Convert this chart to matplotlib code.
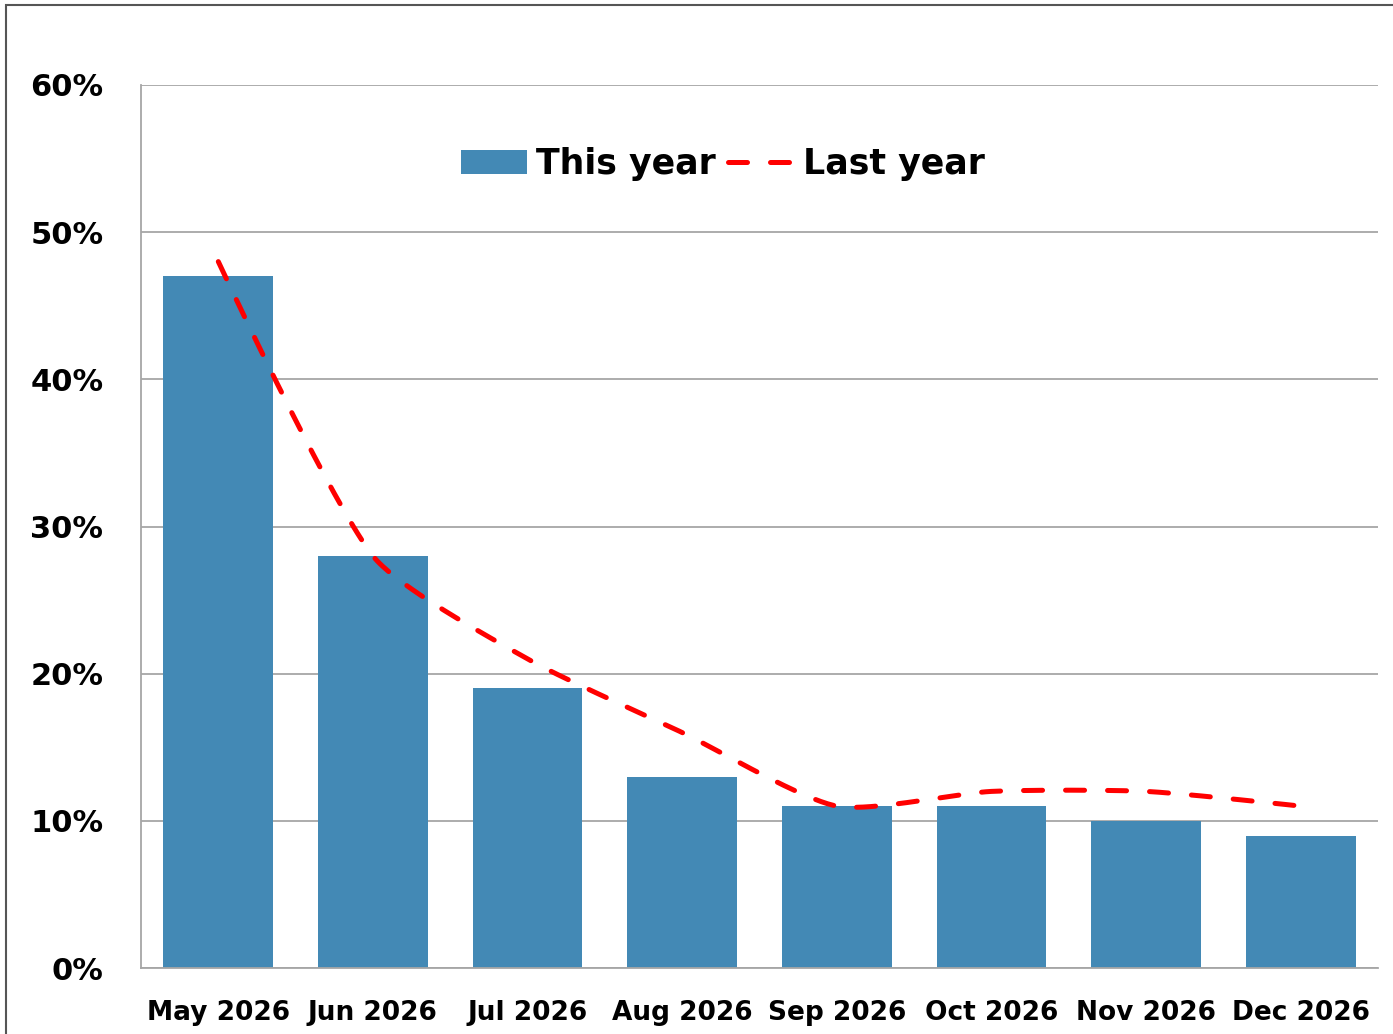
import numpy as np
import matplotlib
matplotlib.use("Agg")
import matplotlib.pyplot as plt
from matplotlib.patches import Rectangle

months = ["May 2026", "Jun 2026", "Jul 2026", "Aug 2026",
          "Sep 2026", "Oct 2026", "Nov 2026", "Dec 2026"]
this_year = [47, 28, 19, 13, 11, 11, 10, 9]
last_year = [48, 28, 21, 16, 11, 12, 12, 11]
y_ticks = [0, 10, 20, 30, 40, 50, 60]

plt.rcParams["font.family"] = ["DejaVu Sans"]
plt.rcParams["font.weight"] = "bold"

fig = plt.figure(figsize=(13.93, 10.34), dpi=100)
ax = fig.add_axes([141 / 1393, 1 - 968 / 1034, (1378 - 141) / 1393, (968 - 85) / 1034])

# border around the whole chart
fig.patches.append(Rectangle((6 / 1393, -0.01), 1.1, 1 - 5 / 1034 + 0.01,
                             transform=fig.transFigure, fill=False,
                             edgecolor="#555555", linewidth=1.5))

x = np.arange(len(months))
bars = ax.bar(x, this_year, width=0.71, color="#4389B5", label="This year", zorder=2)

# smoothed line: bezier with distance-weighted control points (in screen-like units)
def smooth(xs, ys, tension=0.22, n=40):
    kx, ky = 154.6, 14.72  # px per category / px per percent
    P = np.column_stack([np.asarray(xs, float) * kx, np.asarray(ys, float) * ky])
    cin, cout = P.copy(), P.copy()
    for i in range(1, len(P) - 1):
        d0 = np.linalg.norm(P[i] - P[i - 1])
        d1 = np.linalg.norm(P[i + 1] - P[i])
        v = P[i + 1] - P[i - 1]
        cin[i] = P[i] - tension * d0 / (d0 + d1) * v
        cout[i] = P[i] + tension * d1 / (d0 + d1) * v
    t = np.linspace(0, 1, n)[:, None]
    pts = []
    for i in range(len(P) - 1):
        b = ((1 - t) ** 3 * P[i] + 3 * (1 - t) ** 2 * t * cout[i]
             + 3 * (1 - t) * t ** 2 * cin[i + 1] + t ** 3 * P[i + 1])
        pts.append(b if i == 0 else b[1:])
    pts = np.vstack(pts)
    return pts[:, 0] / kx, pts[:, 1] / ky

sx, sy = smooth(x, last_year)
line, = ax.plot(sx, sy, color="#FF0000", linewidth=3.6, linestyle=(0, (3.8, 4.6)),
                dash_capstyle="round", label="Last year", zorder=3)

ax.set_xlim(-0.5, len(months) - 0.5)
ax.set_ylim(0, 60)
ax.set_yticks(y_ticks)
ax.set_yticklabels([f"{v}%" for v in y_ticks], fontsize=22, fontweight="bold")
ax.set_xticks(x)
ax.set_xticklabels(months, fontsize=19, fontweight="bold")
ax.tick_params(axis="both", length=0)
ax.tick_params(axis="y", pad=27)
ax.tick_params(axis="x", pad=23)
ax.yaxis.grid(True, color="#A6A6A6", linewidth=1.3, zorder=0)
ax.set_axisbelow(True)
for s in ["top", "right"]:
    ax.spines[s].set_visible(False)
ax.spines["left"].set_color("#A6A6A6")
ax.spines["bottom"].set_color("#A6A6A6")
ax.spines["left"].set_linewidth(1.3)
ax.spines["bottom"].set_linewidth(1.3)

leg = ax.legend([bars, line], ["This year", "Last year"],
                loc="upper center", bbox_to_anchor=(0.4705, 0.965), ncol=2,
                frameon=False, prop={"size": 25, "weight": "bold"},
                handlelength=1.9, handletextpad=0.25, columnspacing=0.35)

fig.savefig("out.png", dpi=100)
